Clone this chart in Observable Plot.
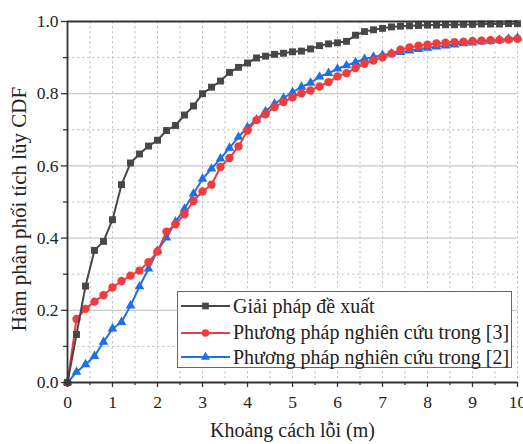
<!DOCTYPE html>
<html>
<head>
<meta charset="utf-8">
<script src="https://cdn.jsdelivr.net/npm/d3@7"></script>
<script src="https://cdn.jsdelivr.net/npm/@observablehq/plot@0.6"></script>
<style>
  html, body { margin: 0; padding: 0; background: #fff; }
  #wrap { position: relative; width: 523px; height: 444px; font-family: "Liberation Serif", "Times New Roman", serif; }
  #legend { position: absolute; left: 177px; top: 291px; width: 335px; height: 77px; border: 1px solid #666; background: #fff; box-sizing: border-box; }
  .row { position: absolute; left: 0; height: 24px; display: flex; align-items: center; font-size: 20px; color: #222; white-space: nowrap; }
  .row svg { margin-left: 2px; margin-right: 3px; }
</style>
</head>
<body>
<div id="wrap"></div>
<script>
const xs = [0,0.2,0.4,0.6,0.8,1,1.2,1.4,1.6,1.8,2,2.2,2.4,2.6,2.8,3,3.2,3.4,3.6,3.8,4,4.2,4.4,4.6,4.8,5,5.2,5.4,5.6,5.8,6,6.2,6.4,6.6,6.8,7,7.2,7.4,7.6,7.8,8,8.2,8.4,8.6,8.8,9,9.2,9.4,9.6,9.8,10];

const proposed = [0,0.133,0.267,0.366,0.391,0.451,0.548,0.608,0.633,0.655,0.671,0.698,0.712,0.741,0.766,0.800,0.818,0.835,0.859,0.873,0.885,0.899,0.904,0.909,0.912,0.916,0.918,0.924,0.933,0.938,0.941,0.945,0.962,0.972,0.977,0.981,0.985,0.987,0.988,0.989,0.990,0.990,0.991,0.991,0.992,0.992,0.993,0.993,0.993,0.994,0.994];

const method3 = [0,0.176,0.204,0.224,0.242,0.263,0.281,0.296,0.310,0.333,0.363,0.418,0.438,0.466,0.503,0.529,0.548,0.597,0.622,0.654,0.698,0.727,0.743,0.763,0.777,0.790,0.801,0.809,0.820,0.832,0.848,0.857,0.871,0.883,0.892,0.901,0.911,0.922,0.928,0.933,0.936,0.939,0.941,0.943,0.944,0.946,0.947,0.948,0.949,0.950,0.952];

const method2 = [0,0.029,0.050,0.073,0.112,0.149,0.167,0.213,0.266,0.315,0.365,0.401,0.445,0.481,0.523,0.564,0.592,0.620,0.650,0.680,0.707,0.728,0.751,0.772,0.788,0.804,0.819,0.830,0.847,0.857,0.869,0.878,0.887,0.896,0.902,0.907,0.911,0.915,0.919,0.923,0.927,0.930,0.933,0.936,0.939,0.941,0.944,0.946,0.949,0.952,0.955];

const seriesNames = ["Giải pháp đề xuất", "Phương pháp nghiên cứu trong [3]", "Phương pháp nghiên cứu trong [2]"];
const seriesColors = ["#474747", "#f03c3c", "#1f6fe6"];
const seriesSymbols = ["square", "circle", "triangle"];

const xTicks = [0,1,2,3,4,5,6,7,8,9,10];
const xMinorTicks = [0.5,1.5,2.5,3.5,4.5,5.5,6.5,7.5,8.5,9.5];
const xGrid = [0.5,1,1.5,2,2.5,3,3.5,4,4.5,5,5.5,6,6.5,7,7.5,8,8.5,9,9.5,10];
const yTicks = [0,0.2,0.4,0.6,0.8,1.0];
const yMinorTicks = [0.1,0.3,0.5,0.7,0.9];
const yMajorGrid = [0.2,0.4,0.6,0.8];

const xTitle = "Khoảng cách lỗi (m)";
const yTitle = "Hàm phân phối tích lũy CDF";

const allSeries = [proposed, method3, method2];
const rows = [];
allSeries.forEach((vals, si) => vals.forEach((v, i) => rows.push({x: xs[i], y: v, s: si})));
const rowsOf = si => rows.filter(d => d.s === si);

const marks = [
  Plot.ruleX(xGrid, {stroke: "#c4c4c4", strokeWidth: 1, strokeDasharray: "2.5,2.5"}),
  Plot.ruleY(yMinorTicks, {stroke: "#c4c4c4", strokeWidth: 1, strokeDasharray: "2.5,2.5"}),
  Plot.ruleY(yMajorGrid, {stroke: "#c8c8c8", strokeWidth: 1.2}),
];
[2, 1, 0].forEach(si => {
  marks.push(Plot.line(rowsOf(si), {x: "x", y: "y", stroke: seriesColors[si], strokeWidth: 2}));
  const r = si === 0 ? 3.9 : (si === 1 ? 4.2 : 3.6);
  marks.push(Plot.dot(rowsOf(si), {x: "x", y: "y", fill: seriesColors[si], stroke: "none", symbol: seriesSymbols[si], r: r}));
});
marks.push(
  Plot.ruleY([1], {stroke: "#333", strokeWidth: 1.8}),
  Plot.ruleX([0], {stroke: "#333", strokeWidth: 1.8}),
  Plot.ruleY([0], {stroke: "#333", strokeWidth: 1.8}),
  Plot.axisX({ticks: xTicks, tickSize: 5, tickPadding: 8, fontSize: 17.5, label: null, stroke: "#333", strokeWidth: 1.3, fill: "#222"}),
  Plot.axisX({ticks: xMinorTicks, tickSize: 3, text: null, label: null, stroke: "#333", strokeWidth: 1.3}),
  Plot.axisY({ticks: yTicks, tickSize: 6, tickPadding: 3, fontSize: 17.5, tickFormat: d => d.toFixed(1), label: null, stroke: "#333", strokeWidth: 1.3, fill: "#222"}),
  Plot.axisY({ticks: yMinorTicks, tickSize: 4, text: null, label: null, stroke: "#333", strokeWidth: 1.3}),
  Plot.text([xTitle], {frameAnchor: "bottom", textAnchor: "middle", dy: 54, fontSize: 20, fill: "#222"}),
  Plot.text([yTitle], {frameAnchor: "left", textAnchor: "middle", dx: -48, dy: 7, rotate: -90, fontSize: 21, fill: "#222"})
);

const chart = Plot.plot({
  width: 523,
  height: 444,
  marginLeft: 67,
  marginRight: 6,
  marginTop: 21,
  marginBottom: 62,
  x: {domain: [0, 10]},
  y: {domain: [0, 1]},
  style: {fontFamily: '"Liberation Serif", "Times New Roman", serif', background: "#fff", overflow: "visible"},
  marks
});
const wrap = document.getElementById("wrap");
wrap.appendChild(chart);

const legend = document.createElement("div");
legend.id = "legend";
const rowTops = [2, 28.5, 53];
seriesNames.forEach((name, si) => {
  const row = document.createElement("div");
  row.className = "row";
  row.style.top = rowTops[si] + "px";
  const s = d3.create("svg").attr("width", 50).attr("height", 14);
  s.append("line").attr("x1", 1).attr("x2", 50).attr("y1", 7).attr("y2", 7).attr("stroke", seriesColors[si]).attr("stroke-width", 2.2);
  const symType = si === 0 ? d3.symbolSquare : (si === 1 ? d3.symbolCircle : d3.symbolTriangle);
  s.append("path").attr("transform", "translate(25.5,7)").attr("d", d3.symbol(symType, si === 2 ? 36 : 45)()).attr("fill", seriesColors[si]);
  row.appendChild(s.node());
  const t = document.createElement("span");
  t.textContent = name;
  row.appendChild(t);
  legend.appendChild(row);
});
wrap.appendChild(legend);
</script>
</body>
</html>
